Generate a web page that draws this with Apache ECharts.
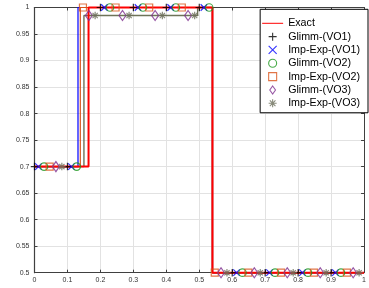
<!DOCTYPE html>
<html>
<head>
<meta charset="utf-8">
<script src="https://cdn.jsdelivr.net/npm/echarts@6/dist/echarts.min.js"></script>
<style>
  html, body { margin: 0; padding: 0; background: #fff; }
  #chart { width: 369px; height: 288px; }
</style>
</head>
<body>
<div id="chart"></div>
<script>
// step profiles [x, y]
const exactStep = [[0, 0.7], [0.164, 0.7], [0.164, 1], [0.54, 1], [0.54, 0.5], [1, 0.5]]
const vo1Step = [[0, 0.7], [0.132, 0.7], [0.132, 1], [0.54, 1], [0.54, 0.5], [1, 0.5]]
const vo2Step = [[0, 0.7], [0.139, 0.7], [0.139, 1], [0.54, 1], [0.54, 0.5], [1, 0.5]]
const vo3Step = [[0, 0.7], [0.15, 0.7], [0.15, 0.985], [0.495, 0.985], [0.495, 1], [0.54, 1], [0.54, 0.5], [1, 0.5]]

// marker samples [x, y]
const glimmVO1 = [[0, 0.7], [0.1, 0.7], [0.2, 1], [0.3, 1], [0.4, 1], [0.5, 1], [0.6, 0.5], [0.7, 0.5], [0.8, 0.5], [0.9, 0.5]]
const impExpVO1 = [[0.012, 0.7], [0.112, 0.7], [0.212, 1], [0.314, 1], [0.413, 1], [0.514, 1], [0.613, 0.5], [0.713, 0.5], [0.813, 0.5], [0.913, 0.5]]
const glimmVO2 = [[0.029, 0.7], [0.128, 0.7], [0.229, 1], [0.329, 1], [0.429, 1], [0.53, 1], [0.631, 0.5], [0.73, 0.5], [0.83, 0.5], [0.93, 0.5]]
const impExpVO2 = [[0.046, 0.7], [0.147, 1], [0.246, 1], [0.348, 1], [0.447, 1], [0.547, 0.5], [0.649, 0.5], [0.748, 0.5], [0.848, 0.5], [0.948, 0.5]]
const glimmVO3 = [[0.065, 0.7], [0.165, 0.985], [0.267, 0.985], [0.366, 0.985], [0.466, 0.985], [0.566, 0.5], [0.667, 0.5], [0.767, 0.5], [0.867, 0.5], [0.967, 0.5]]
const impExpVO3 = [[0.083, 0.7], [0.184, 0.985], [0.287, 0.985], [0.388, 0.985], [0.486, 0.985], [0.584, 0.5], [0.685, 0.5], [0.785, 0.5], [0.885, 0.5], [0.985, 0.5]]

const legendNames = ['Exact', 'Glimm-(VO1)', 'Imp-Exp-(VO1)', 'Glimm-(VO2)', 'Imp-Exp-(VO2)', 'Glimm-(VO3)', 'Imp-Exp-(VO3)']

const FONT = 'Liberation Sans, Arial, sans-serif'
const AXIS_COLOR = '#404040'

const PLUS = 'path://M0 5L10 5M5 0L5 10'
const CROSS = 'path://M1 1L9 9M9 1L1 9'
const CIRCLE = 'path://M0 5A5 5 0 1 1 10 5A5 5 0 1 1 0 5Z'
const SQUARE = 'path://M0 0L10 0L10 10L0 10Z'
const DIAMOND = 'path://M5 0L10 7L5 14L0 7Z'
const STAR = 'path://M0 5L10 5M5 0L5 10M1.5 1.5L8.5 8.5M8.5 1.5L1.5 8.5'
const LINE_ICON = 'path://M0 0L21 0L21 1L0 1Z'

function markerSeries(name, data, symbol, size, color) {
  return {
    name: name,
    type: 'scatter',
    data: data,
    symbol: symbol,
    symbolSize: size,
    z: 5,
    itemStyle: { color: 'none', borderColor: color, borderWidth: 1.2 },
    emphasis: { disabled: true },
    animation: false
  }
}

function stepSeries(name, data, color, width, z) {
  return {
    name: name,
    type: 'line',
    data: data,
    symbol: 'none',
    clip: false,
    z: z,
    lineStyle: { color: color, width: width },
    itemStyle: { color: color },
    animation: false
  }
}

const chart = echarts.init(document.getElementById('chart'))

const legendData = legendNames.map(function (n) {
  if (n === 'Exact') return { name: n, icon: LINE_ICON, itemStyle: { borderWidth: 0 } }
  return { name: n }
})

const option = {
  backgroundColor: '#fff',
  grid: { left: 34.5, right: 0.5, top: 7.5, bottom: 15.3 },
  legend: {
    data: legendData,
    orient: 'vertical',
    right: 1,
    top: 9.3,
    padding: [7.5, 8, 3, 2],
    itemWidth: 21,
    itemHeight: 8,
    itemGap: 0.33,
    backgroundColor: '#fff',
    borderColor: '#000',
    borderWidth: 1,
    borderRadius: 0,
    textStyle: { fontFamily: FONT, fontSize: 10.7, color: '#000', lineHeight: 13 },
    itemStyle: { borderWidth: 1.1 },
    lineStyle: { width: 1 },
    selectedMode: false
  },
  xAxis: [{
    type: 'value',
    min: 0,
    max: 1,
    interval: 0.1,
    position: 'bottom',
    axisLine: { show: true, lineStyle: { color: AXIS_COLOR, width: 1 } },
    axisTick: { show: true, inside: true, length: 3, lineStyle: { color: AXIS_COLOR } },
    axisLabel: { fontFamily: FONT, fontSize: 7, color: '#333', margin: 4 },
    splitLine: { show: true, lineStyle: { color: '#e2e2e2', width: 1 } }
  }, {
    type: 'value',
    min: 0,
    max: 1,
    interval: 0.1,
    position: 'top',
    axisLine: { show: true, onZero: false, lineStyle: { color: AXIS_COLOR, width: 1 } },
    axisTick: { show: true, inside: true, length: 3, lineStyle: { color: AXIS_COLOR } },
    axisLabel: { show: false },
    splitLine: { show: false }
  }],
  yAxis: [{
    type: 'value',
    min: 0.5,
    max: 1,
    interval: 0.05,
    position: 'left',
    axisLine: { show: true, lineStyle: { color: AXIS_COLOR, width: 1.2 } },
    axisTick: { show: true, inside: true, length: 3, lineStyle: { color: AXIS_COLOR } },
    axisLabel: { fontFamily: FONT, fontSize: 7, color: '#333', margin: 5 },
    splitLine: { show: true, lineStyle: { color: '#e2e2e2', width: 1 } }
  }, {
    type: 'value',
    min: 0.5,
    max: 1,
    interval: 0.05,
    position: 'right',
    axisLine: { show: true, onZero: false, lineStyle: { color: AXIS_COLOR, width: 1 } },
    axisTick: { show: true, inside: true, length: 3, lineStyle: { color: AXIS_COLOR } },
    axisLabel: { show: false },
    splitLine: { show: false }
  }],
  series: [
    stepSeries('vo1 line', vo1Step, '#0000ff', 1.2, 2),
    stepSeries('vo2 line', vo2Step, '#d95319', 1.2, 2),
    stepSeries('vo3 line', vo3Step, '#6e7358', 1.4, 2),
    stepSeries('Exact', exactStep, '#ff0000', 2, 4),
    markerSeries('Glimm-(VO1)', glimmVO1, PLUS, 7.5, '#000000'),
    markerSeries('Imp-Exp-(VO1)', impExpVO1, CROSS, 6.5, '#0000ff'),
    markerSeries('Glimm-(VO2)', glimmVO2, CIRCLE, 7.5, '#1a961a'),
    markerSeries('Imp-Exp-(VO2)', impExpVO2, SQUARE, 7, '#d95319'),
    markerSeries('Glimm-(VO3)', glimmVO3, DIAMOND, [7, 10], '#7e2f8e'),
    markerSeries('Imp-Exp-(VO3)', impExpVO3, STAR, 7.5, '#6b6e5a')
  ]
}

chart.setOption(option)
</script>
</body>
</html>
